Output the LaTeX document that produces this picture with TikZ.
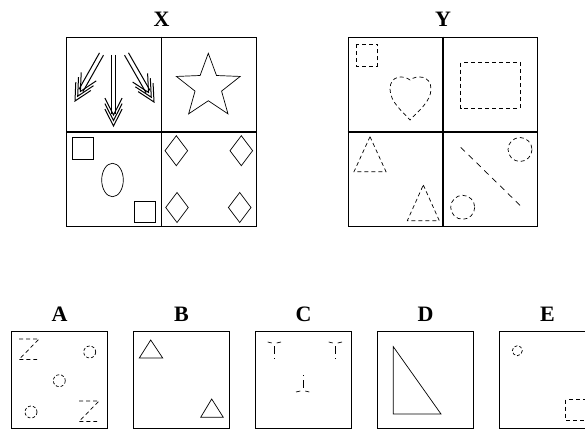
\documentclass[tikz,border=0pt]{standalone}
\usepackage{fontspec}
\setmainfont{Liberation Serif}
\usetikzlibrary{shapes,positioning,calc}

\begin{document}
\begin{tikzpicture}[
    x=1pt, y=-1pt,
    panel/.style={draw, line width=1.3pt, minimum size=189.5pt, inner sep=0pt},
    choice/.style={draw, line width=1.2pt, minimum size=96.5pt, inner sep=0pt},
    lab/.style={font=\fontsize{22}{22}\selectfont\bfseries, inner sep=0pt, text depth=0pt},
    fig/.style={line width=0.7pt},
    quill/.style={line width=1pt, line join=miter},
    broken/.style={fig, dash pattern=on 4pt off 3pt},
    fine/.style={fig, dash pattern=on 3pt off 2pt},
    wye/.pic={
        \draw[fig] (-6.3,-1) -- (-2.3,0);
        \draw[fig] (2.7,0) -- (7,-1);
        \draw[fig] (0,3.3) -- (0,10.7);
        \draw[fig] (0,15) -- (0,16);
    }
]
\clip (0,0) rectangle (585,430);

% the two given panels
\node[panel] (gridX) at (161.5,132) {};
\node[panel] (gridY) at (443,132) {};
\draw[line width=1.3pt] (gridX.north) -- (gridX.south);
\draw[line width=1.3pt] (gridX.west) -- (gridX.east);
\draw[line width=1.3pt] (gridY.north) -- (gridY.south);
\draw[line width=1.3pt] (gridY.west) -- (gridY.east);
\node[lab, above=10pt of gridX] (labX) {X};
\node[lab, above=10pt of gridY] (labY) {Y};

% X: three feathered arrows
\coordinate (sL) at (101.5,54);  \coordinate (tL) at (75,101);
\coordinate (sM) at (113.5,55);  \coordinate (tM) at (113.5,126);
\coordinate (sR) at (126.5,54);  \coordinate (tR) at (154,102);
\foreach \a in {L,M,R} {
    \coordinate (e\a) at ($(t\a)!12pt!(s\a)$);
    \draw[quill] ($(s\a)!2.3pt!90:(t\a)$) -- ($(e\a)!2.3pt!-90:(s\a)$);
    \draw[quill] ($(s\a)!2.3pt!-90:(t\a)$) -- ($(e\a)!2.3pt!90:(s\a)$);
    \foreach \k in {0pt,5.5pt,11pt} {
        \coordinate (p) at ($(t\a)!\k!(s\a)$);
        \draw[quill] ($(p)!19pt!27:(s\a)$) -- (p) -- ($(p)!19pt!-27:(s\a)$);
    }
}

% X: star
\node[fig, draw, star, star points=5, star point ratio=2.4, minimum size=67pt, inner sep=0pt] (star) at (208.3,86.8) {};

% X: squares and ellipse
\draw[fig] (72.3,137.7) rectangle (93.3,159);
\draw[fig] (134,201.7) rectangle (155.7,222.7);
\draw[fig] (112.5,180) ellipse (10.8 and 16.7);

% X: diamonds
\foreach \p in {(176.3,150.7),(241.3,150.7),(177,207.5),(239.7,207.5)}
    \draw[fig] \p +(0,-15) -- +(11.3,0) -- +(0,15) -- +(-11.3,0) -- cycle;

% Y: dashed shapes
\draw[broken] (356,44.3) rectangle (377.7,66);
\draw[broken] (410,80) .. controls (404,75) and (390,75) .. (390,89)
    .. controls (390,102) and (403,112) .. (410,120)
    .. controls (417,112) and (431,102) .. (431,89)
    .. controls (431,75) and (416,75) .. (410,80) -- cycle;
\draw[broken] (460.7,62.7) rectangle (520,108.3);
\draw[broken] (370,136.7) -- (386,171.7) -- (354,171.7) -- cycle;
\draw[broken] (423.3,185) -- (439.3,220.7) -- (407.3,220.7) -- cycle;
\draw[fig, dash pattern=on 6pt off 5pt] (460.7,147.3) -- (520.7,206);
\draw[broken] (520,149.5) circle (12);
\draw[broken] (462.7,207.3) circle (12);

% answer boxes
\foreach \l [count=\i from 0] in {A,B,C,D,E} {
    \node[choice] (box\l) at (59.5+122*\i,380) {};
    \node[lab, above=9pt of box\l] (lab\l) {\l};
}

% A
\foreach \p in {(19,339),(79,401)}
    \draw[broken] \p ++(0,0) -- ++(20,0) -- ++(-20,20.5) -- ++(18,0);
\foreach \p in {(89.7,352),(59.3,380.7),(31,412)}
    \draw[fine] \p circle (6);

% B
\draw[fig] (150.7,340) -- (162.7,358) -- (139.3,358) -- cycle;
\draw[fig] (211.7,399) -- (223.3,417.3) -- (200.7,417.3) -- cycle;

% C
\pic at (274,343) {wye};
\pic at (335,343) {wye};
\pic[rotate=180] at (303,391) {wye};

% D
\draw[fig] (393.3,346.7) -- (393.3,414) -- (441,414) -- cycle;

% E
\draw[fine] (517.3,350.7) circle (5);
\draw[broken] (565.7,399.7) rectangle (587,420.3);
\end{tikzpicture}
\end{document}
